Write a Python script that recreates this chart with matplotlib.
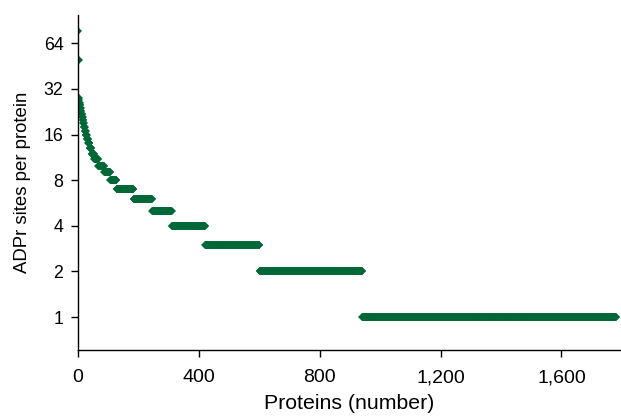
import numpy as np
import matplotlib
matplotlib.use('Agg')
import matplotlib.pyplot as plt
from matplotlib.ticker import FixedLocator, FuncFormatter, NullLocator

plt.rcParams['font.family'] = ['Liberation Sans', 'DejaVu Sans']

# ADPr sites per protein level and how many proteins sit on each level
site_levels = [77, 50, 28, 27, 26, 25, 24, 23, 22, 21, 20, 19, 18, 17, 16, 15,
               14, 13, 12, 11, 10, 9, 8, 7, 6, 5, 4, 3, 2, 1]
protein_counts = [1, 1, 1, 1, 1, 2, 2, 2, 2, 2, 2, 2, 3, 3, 4, 4,
                  5, 6, 9, 13, 20, 20, 21, 56, 62, 65, 110, 180, 340, 840]

y_ticks = [1, 2, 4, 8, 16, 32, 64]
x_ticks = [0, 400, 800, 1200, 1600]

sites = np.repeat(site_levels, protein_counts)
rank = np.arange(1, len(sites) + 1)

fig = plt.figure(figsize=(6.21, 4.2), dpi=100)
ax = fig.add_axes([0.1256, 0.1667, 0.872, 0.797])

ax.plot(rank, sites, linestyle='none', marker='D', markersize=4.2,
        color='#006837', markeredgewidth=0)

ax.set_yscale('log', base=2)
ax.set_ylim(0.607, 98)
ax.set_xlim(0, 1792)

ax.yaxis.set_major_locator(FixedLocator(y_ticks))
ax.yaxis.set_minor_locator(NullLocator())
ax.yaxis.set_major_formatter(FuncFormatter(lambda v, p: f'{int(v)}'))
ax.xaxis.set_major_locator(FixedLocator(x_ticks))
ax.xaxis.set_major_formatter(FuncFormatter(lambda v, p: f'{int(v):,}'))

for side in ['top', 'right']:
    ax.spines[side].set_visible(False)
for side in ['left', 'bottom']:
    ax.spines[side].set_linewidth(1.0)

ax.tick_params(axis='both', direction='out', length=5, width=1, colors='black')
ax.tick_params(axis='y', labelsize=12.8, pad=5.5)
ax.tick_params(axis='x', labelsize=14, pad=9)
ax.set_xlabel('Proteins (number)', fontsize=15.3, labelpad=5.5)
ax.set_ylabel('ADPr sites per protein', fontsize=13.4, labelpad=9)

fig.savefig('out.png', dpi=100)
